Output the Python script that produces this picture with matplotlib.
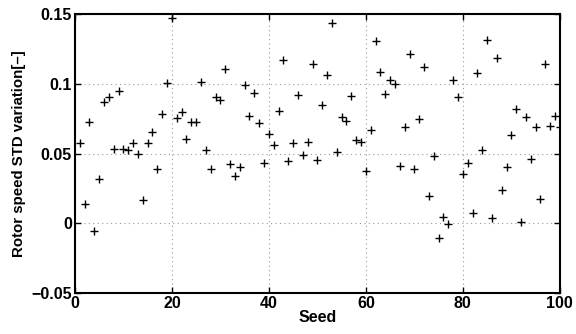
import matplotlib
matplotlib.use("Agg")
import matplotlib.pyplot as plt

seeds = list(range(1, 101))
std_variation = [
    0.0579, 0.0139, 0.0730, -0.0057, 0.0317, 0.0867, 0.0903, 0.0536, 0.0946, 0.0536,
    0.0524, 0.0579, 0.0500, 0.0167, 0.0579, 0.0657, 0.0389, 0.0786, 0.1003, 0.1474,
    0.0753, 0.0798, 0.0607, 0.0724, 0.0724, 0.1010, 0.0524, 0.0393, 0.0907, 0.0884,
    0.1103, 0.0426, 0.0343, 0.0407, 0.0995, 0.0771, 0.0931, 0.0719, 0.0431, 0.0643,
    0.0560, 0.0805, 0.1169, 0.0450, 0.0576, 0.0919, 0.0488, 0.0584, 0.1145, 0.0457,
    0.0850, 0.1060, 0.1438, 0.0510, 0.0762, 0.0736, 0.0914, 0.0598, 0.0586, 0.0379,
    0.0669, 0.1310, 0.1086, 0.0926, 0.1029, 0.1000, 0.0414, 0.0688, 0.1217, 0.0390,
    0.0748, 0.1119, 0.0200, 0.0481, -0.0107, 0.0045, -0.0002, 0.1024, 0.0903, 0.0357,
    0.0436, 0.0074, 0.1081, 0.0529, 0.1317, 0.0036, 0.1184, 0.0243, 0.0407, 0.0633,
    0.0817, 0.0010, 0.0764, 0.0464, 0.0688, 0.0174, 0.1145, 0.0698, 0.0771, 0.0688,
]
x_ticks = [0, 20, 40, 60, 80, 100]
y_ticks = [-0.05, 0, 0.05, 0.1, 0.15]
y_tick_labels = ["\u22120.05", "0", "0.05", "0.1", "0.15"]

plt.rcParams["font.family"] = ["Liberation Sans", "DejaVu Sans"]
plt.rcParams["font.weight"] = "bold"

fig = plt.figure(figsize=(5.76, 3.34), dpi=100)
ax = fig.add_axes([0.130, 0.122, 0.842, 0.836])

ax.plot(seeds, std_variation, linestyle="none", marker="+", color="black",
        markersize=5.5, markeredgewidth=1.0)

ax.set_xlim(0, 100)
ax.set_ylim(-0.05, 0.15)
ax.set_xticks(x_ticks)
ax.set_yticks(y_ticks)
ax.set_yticklabels(y_tick_labels)
ax.tick_params(direction="in", length=4, width=1, top=True, right=True,
               labelsize=11.5, pad=2)
for lbl in ax.get_xticklabels() + ax.get_yticklabels():
    lbl.set_fontweight("bold")
for sp in ax.spines.values():
    sp.set_linewidth(1.5)

ax.grid(True, linestyle=(0, (1, 3)), color="#999999", linewidth=0.8)

ax.set_xlabel("Seed", fontsize=11.5, fontweight="bold", labelpad=-1)
ax.set_ylabel("Rotor speed STD variation[\u2013]", fontsize=10.8, fontweight="bold", labelpad=4)

fig.savefig("out.png", dpi=100)
